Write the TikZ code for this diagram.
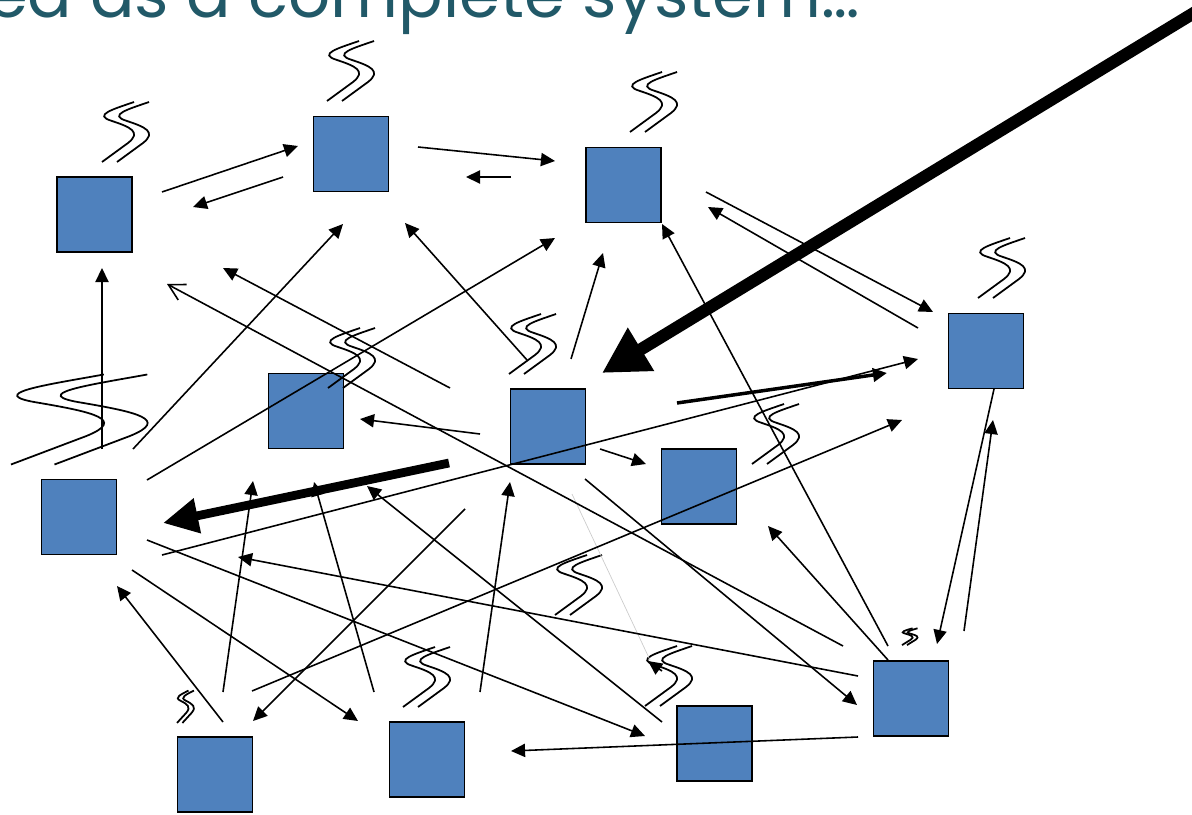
\documentclass[tikz,border=0pt]{standalone}
\usepackage{fontspec}
\usetikzlibrary{arrows.meta}
\newfontfamily\titlefont{Poppins}
\definecolor{titleteal}{RGB}{33,89,104}
\definecolor{boxblue}{RGB}{79,129,189}
\tikzset{
  box/.style={draw=black,line width=1.1pt,fill=boxblue,minimum size=1.5cm,inner sep=0pt},
  link/.style={line width=0.9pt,-{Triangle[length=8pt,width=7.5pt]}},
  steam/.pic={
    \draw[line width=1pt] (32,1) .. controls (12,8) and (-10,14) .. (10,20) .. controls (28,26) and (40,31) .. (26,42) -- (0,61);
    \draw[line width=1pt] (47,1) .. controls (27,8) and (5,14) .. (25,20) .. controls (43,26) and (55,31) .. (41,42) -- (15,61);
  }
}
\begin{document}
\begin{tikzpicture}[x=0.02cm,y=-0.02cm]
\useasboundingbox (0,0) rectangle (1192,814);
\clip (0,0) rectangle (1192,814);
\node[font=\titlefont\fontsize{37.5}{38}\selectfont,text=titleteal,anchor=base east,inner sep=0pt] (title) at (860,18) {ed as a complete system…};
\node[box] (a) at (94.5,214.5) {};
\node[box] (b) at (351,154) {};
\node[box] (c) at (623.5,185) {};
\node[box] (d) at (986,351) {};
\node[box] (e) at (306,411) {};
\node[box] (f) at (548,426.5) {};
\node[box] (g) at (699,486.5) {};
\node[box] (h) at (79,517) {};
\node[box] (i) at (215,774.5) {};
\node[box] (j) at (427,759.5) {};
\node[box] (k) at (714.5,743.5) {};
\node[box] (l) at (911,698.5) {};
\pic at (102,101) {steam};
\pic at (327,40) {steam};
\pic at (630,71) {steam};
\pic at (978,237) {steam};
\pic[xscale=2.9,yscale=1.5] at (11,373) {steam};
\pic at (328,327) {steam};
\pic at (509,313) {steam};
\pic at (752,403) {steam};
\pic at (555,554) {steam};
\pic at (645,645) {steam};
\pic at (403,646) {steam};
\pic[xscale=0.36,yscale=0.54] at (177,690) {steam};
\pic[xscale=0.33,yscale=0.28] at (902,628) {steam};
\draw[gray!40,line width=0.4pt] (572,494) -- (650,660);
\draw[link] (162,192) -- (298,146);
\draw[link] (283,177) -- (193,207);
\draw[link] (418,147) -- (555,161);
\draw[link] (511,177) -- (466,177);
\draw[link] (706,192) -- (933,312);
\draw[link] (918,328) -- (708,207);
\draw[link] (888,646) -- (662,224);
\draw[link] (162,555) -- (918,359);
\draw[link,line width=2pt] (677,403) -- (887,373);
\draw[link] (252,691) -- (902,420);
\draw[link] (994,389) -- (937,644);
\draw[link] (964,631) -- (993,420);
\draw[link] (102,449) -- (102,268);
\draw[line width=0.9pt,-{Straight Barb[length=9pt,width=10pt]}] (843,646) -- (167,284);
\draw[link] (450,388) -- (223,268);
\draw[link] (133,449) -- (343,224);
\draw[link] (147,480) -- (555,238);
\draw[link] (527,360) -- (405,223);
\draw[link] (571,359) -- (603,253);
\draw[link] (480,434) -- (360,419);
\draw[link] (600,449) -- (646,464);
\draw[link] (147,540) -- (645,736);
\draw[link] (132,570) -- (358,721);
\draw[link] (223,722) -- (117,586);
\draw[link] (223,692) -- (253,481);
\draw[link] (374,692) -- (314,482);
\draw[link] (465,509) -- (253,721);
\draw[link] (480,692) -- (510,482);
\draw[link] (662,722) -- (367,486);
\draw[link] (585,479) -- (857,705);
\draw[link] (858,676) -- (238,557);
\draw[link] (858,737) -- (511,751);
\draw[link] (888,660) -- (768,526);
\draw[link] (662,671) -- (648,661);
\draw[line width=5pt,-{Triangle[length=20pt,width=19pt]}] (449,463) -- (163,523);
\draw[line width=7pt,-{Triangle[length=26pt,width=27pt]}] (1230,-9) -- (602,373);
\end{tikzpicture}
\end{document}
